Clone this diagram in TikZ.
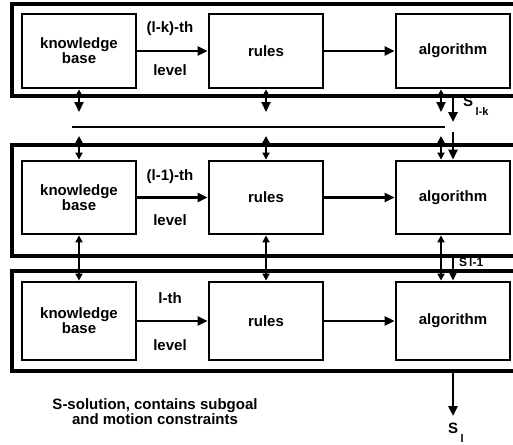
\documentclass[tikz,border=0pt]{standalone}
\usepackage{fontspec}
\setmainfont{Liberation Sans}
\usetikzlibrary{arrows.meta}
\tikzset{
  box/.style={draw, line width=2.8pt, minimum width=114pt, minimum height=74pt,
    inner sep=0pt, align=center, font=\fontsize{15}{14}\selectfont\bfseries},
  frame/.style={line width=3.2pt},
  lbl/.style={font=\fontsize{15}{14}\selectfont\bfseries, inner sep=0pt},
  flow/.style={line width=2.8pt, -{Triangle[length=10pt,width=9pt]}},
  link/.style={line width=2.2pt, {Triangle[length=7pt,width=7pt]}-{Triangle[length=7pt,width=7pt]}},
  linkdown/.style={line width=2.2pt, {Triangle[length=6pt,width=6pt]}-{Triangle[length=10pt,width=9pt]}},
}
\newcommand{\sub}[1]{\raisebox{-9pt}{\fontsize{11}{11}\selectfont #1}}
\begin{document}
\begin{tikzpicture}[x=1pt,y=-1pt]
			\clip (0,0) rectangle (513,444);
			% level frames
			\draw[frame] (12,4) rectangle (530,96);
			\draw[frame] (12,145) rectangle (530,256);
			\draw[frame] (12,271) rectangle (530,371);
			
			% (l-k)-th level
			\node[box] (kbA) at (79,51) {knowledge\\base};
			\node[box] (rulesA) at (266,51) {rules};
			\node[box] (algA) at (453,51) {algorithm};
			\node[lbl] (thA) at (170,29) {(l-k)-th};
			\node[lbl] (lvA) at (170,70) {level};
			\draw[flow] (kbA) -- (rulesA);
			\draw[flow] (rulesA) -- (algA);
			
			% (l-1)-th level
			\node[box, minimum height=73pt] (kbB) at (79,197.5) {knowledge\\base};
			\node[box, minimum height=73pt] (rulesB) at (266,197.5) {rules};
			\node[box, minimum height=73pt] (algB) at (453,197.5) {algorithm};
			\node[lbl] (thB) at (170,177) {(l-1)-th};
			\node[lbl] (lvB) at (170,220) {level};
			\draw[flow] (kbB) -- (rulesB);
			\draw[flow] (rulesB) -- (algB);
			
			% l-th level
			\node[box, minimum height=78pt] (kbC) at (79,321) {knowledge\\base};
			\node[box, minimum height=78pt] (rulesC) at (266,321) {rules};
			\node[box, minimum height=78pt] (algC) at (453,321) {algorithm};
			\node[lbl] (thC) at (170,298) {l-th};
			\node[lbl] (lvC) at (170,345) {level};
			\draw[flow] (kbC) -- (rulesC);
			\draw[flow] (rulesC) -- (algC);
			
			% intermediate levels
			\coordinate (gapL) at (72,127);
			\coordinate (gapR) at (445,127);
			\draw[line width=2.2pt] (gapL) -- (gapR);
			\coordinate (kbAd) at (79,112);
			\coordinate (rulesAd) at (266,112);
			\coordinate (algAd) at (441,112);
			\coordinate (kbBu) at (79,136);
			\coordinate (rulesBu) at (266,136);
			\coordinate (algBu) at (441,136);
			\draw[linkdown] (kbA.south) -- (kbAd);
			\draw[linkdown] (rulesA.south) -- (rulesAd);
			\draw[linkdown] ([xshift=-12pt]algA.south) -- (algAd);
			\draw[link] (kbBu) -- (kbB.north);
			\draw[link] (rulesBu) -- (rulesB.north);
			\draw[link] (algBu) -- ([xshift=-12pt]algB.north);
			\draw[link] (kbB.south) -- (kbC.north);
			\draw[link] (rulesB.south) -- (rulesC.north);
			\draw[link] ([xshift=-12pt]algB.south) -- ([xshift=-12pt]algC.north);
			
			% solutions
			\coordinate (outA) at (453,96);
			\coordinate (sA) at (453,122);
			\coordinate (inB) at (453,132);
			\coordinate (outB) at (453,256);
			\coordinate (outC) at (453,371);
			\coordinate (sC) at (453,416);
			\draw[flow] (outA) -- (sA);
			\draw[flow] (inB) -- (algB.north);
			\draw[flow] (outB) -- (algC.north);
			\draw[flow] (outC) -- (sC);
			\node[lbl, anchor=west] (sAl) at (463,106) {S\,\sub{l-k}};
			\node[lbl, anchor=west, font=\fontsize{12}{12}\selectfont\bfseries] (sBl) at (459,262) {S\,l-1};
			\node[lbl] (sCl) at (456,433) {S\,\sub{l}};
			
			\node[lbl, align=center] (note) at (155,412) {S-solution, contains subgoal\\and motion constraints};
		\end{tikzpicture}
\end{document}
